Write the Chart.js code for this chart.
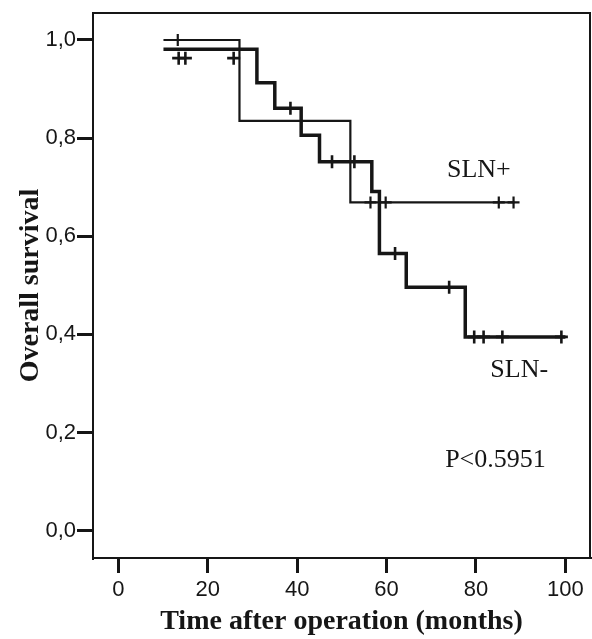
<!DOCTYPE html>
<html>
<head>
<meta charset="utf-8">
<script src="https://cdn.jsdelivr.net/npm/chart.js@4/dist/chart.umd.min.js"></script>
<style>
  html, body { margin: 0; padding: 0; background: #fff; }
  #wrap { width: 592px; height: 639px; position: relative; }
</style>
</head>
<body>
<div id="wrap"><canvas id="c" width="592" height="639"></canvas></div>
<script>
// ---- Data ----
// SLN+ Kaplan-Meier step curve (thin line)
const slnPosTimes  = [10.1, 27.1, 51.9, 88.6];
const slnPosSurv   = [1.000, 0.835, 0.669, 0.669];
// SLN+ censored observations
const slnPosCensT  = [13.3, 56.4, 59.8, 85.1, 88.4];
const slnPosCensS  = [1.000, 0.669, 0.669, 0.669, 0.669];

// SLN- Kaplan-Meier step curve (thick line)
const slnNegTimes  = [10.1, 31.0, 35.0, 40.9, 45.0, 56.7, 58.4, 64.4, 77.6, 100.0];
const slnNegSurv   = [0.981, 0.913, 0.861, 0.806, 0.752, 0.691, 0.565, 0.496, 0.395, 0.395];
// SLN- censored observations
const slnNegCensT  = [13.5, 15.0, 25.8, 38.5, 47.8, 52.8, 61.9, 74.0, 79.6, 81.7, 85.9, 99.1];
const slnNegCensS  = [0.963, 0.963, 0.963, 0.861, 0.752, 0.752, 0.565, 0.496, 0.395, 0.395, 0.395, 0.395];

// Axis tick labels
const xTickValues = [0, 20, 40, 60, 80, 100];
const yTickValues = [0.0, 0.2, 0.4, 0.6, 0.8, 1.0];
const yTickLabels = ['0,0', '0,2', '0,4', '0,6', '0,8', '1,0'];

// Annotation texts
const annotationTexts = ['SLN+', 'SLN-', 'P<0.5951'];

// ---- Chart ----
const INK = '#161616';
const toPts = (xs, ys) => xs.map((x, i) => ({ x: x, y: ys[i] }));

const annotationPlacement = [
  { t: 73.5, s: 0.721 },
  { t: 83.2, s: 0.314 },
  { t: 73.1, s: 0.130 }
];

const framePlugin = {
  id: 'frameAndText',
  afterDraw(chart) {
    const { ctx, chartArea: a, scales } = chart;
    ctx.save();
    ctx.strokeStyle = INK;
    ctx.lineWidth = 2;
    ctx.beginPath();
    ctx.moveTo(a.left, a.top);
    ctx.lineTo(a.right, a.top);
    ctx.lineTo(a.right, a.bottom);
    ctx.stroke();
    ctx.fillStyle = INK;
    ctx.font = '26px "Liberation Serif", "Times New Roman", serif';
    ctx.textAlign = 'left';
    ctx.textBaseline = 'alphabetic';
    annotationTexts.forEach((txt, i) => {
      const p = annotationPlacement[i];
      ctx.fillText(txt, scales.x.getPixelForValue(p.t), scales.y.getPixelForValue(p.s));
    });
    ctx.restore();
  }
};

const noPad = (s) => { s.paddingLeft = 0; s.paddingRight = 0; s.paddingTop = 0; s.paddingBottom = 0; };

new Chart(document.getElementById('c'), {
  type: 'line',
  data: {
    datasets: [
      {
        label: 'SLN+',
        data: toPts(slnPosTimes, slnPosSurv),
        stepped: 'before',
        borderColor: INK,
        borderWidth: 2.2,
        pointRadius: 0,
        fill: false
      },
      {
        label: 'SLN-',
        data: toPts(slnNegTimes, slnNegSurv),
        stepped: 'before',
        borderColor: INK,
        borderWidth: 3.5,
        pointRadius: 0,
        fill: false
      },
      {
        label: 'SLN+ censored',
        data: toPts(slnPosCensT, slnPosCensS),
        showLine: false,
        pointStyle: 'cross',
        pointRadius: 6,
        pointBorderWidth: 2.2,
        borderColor: INK,
        backgroundColor: INK
      },
      {
        label: 'SLN- censored',
        data: toPts(slnNegCensT, slnNegCensS),
        showLine: false,
        pointStyle: 'cross',
        pointRadius: 6.5,
        pointBorderWidth: 2.6,
        borderColor: INK,
        backgroundColor: INK
      }
    ]
  },
  options: {
    responsive: false,
    animation: false,
    devicePixelRatio: 1,
    layout: { autoPadding: false, padding: { top: 13, right: 2, left: 0, bottom: 0 } },
    plugins: {
      legend: { display: false },
      tooltip: { enabled: false }
    },
    scales: {
      x: {
        type: 'linear',
        min: -5.66,
        max: 105.5,
        afterBuildTicks: (s) => { s.ticks = xTickValues.map(v => ({ value: v })); },
        afterFit: (s) => { s.height = 81; noPad(s); },
        grid: { drawOnChartArea: false, drawTicks: true, tickLength: 15, lineWidth: 3, color: INK },
        border: { display: true, color: INK, width: 2 },
        ticks: {
          color: INK,
          padding: 4,
          maxRotation: 0,
          font: { family: '"Liberation Sans", Arial, sans-serif', size: 22 }
        },
        title: {
          display: true,
          text: 'Time after operation (months)',
          color: INK,
          font: { family: '"Liberation Serif", "Times New Roman", serif', size: 28, weight: 'bold' },
          padding: { top: 0, bottom: 0 }
        }
      },
      y: {
        type: 'linear',
        min: -0.0556,
        max: 1.055,
        afterBuildTicks: (s) => { s.ticks = yTickValues.map(v => ({ value: v })); },
        afterFit: (s) => { s.width = 93; noPad(s); },
        grid: { drawOnChartArea: false, drawTicks: true, tickLength: 16, lineWidth: 3, color: INK },
        border: { display: true, color: INK, width: 2 },
        ticks: {
          color: INK,
          padding: 1,
          font: { family: '"Liberation Sans", Arial, sans-serif', size: 22 },
          callback: (v) => { const i = yTickValues.findIndex(t => Math.abs(t - v) < 1e-6); return i >= 0 ? yTickLabels[i] : ''; }
        },
        title: {
          display: true,
          text: 'Overall survival',
          color: INK,
          font: { family: '"Liberation Serif", "Times New Roman", serif', size: 28, weight: 'bold' },
          padding: { top: 14, bottom: 0 }
        }
      }
    }
  },
  plugins: [framePlugin]
});
</script>
</body>
</html>
